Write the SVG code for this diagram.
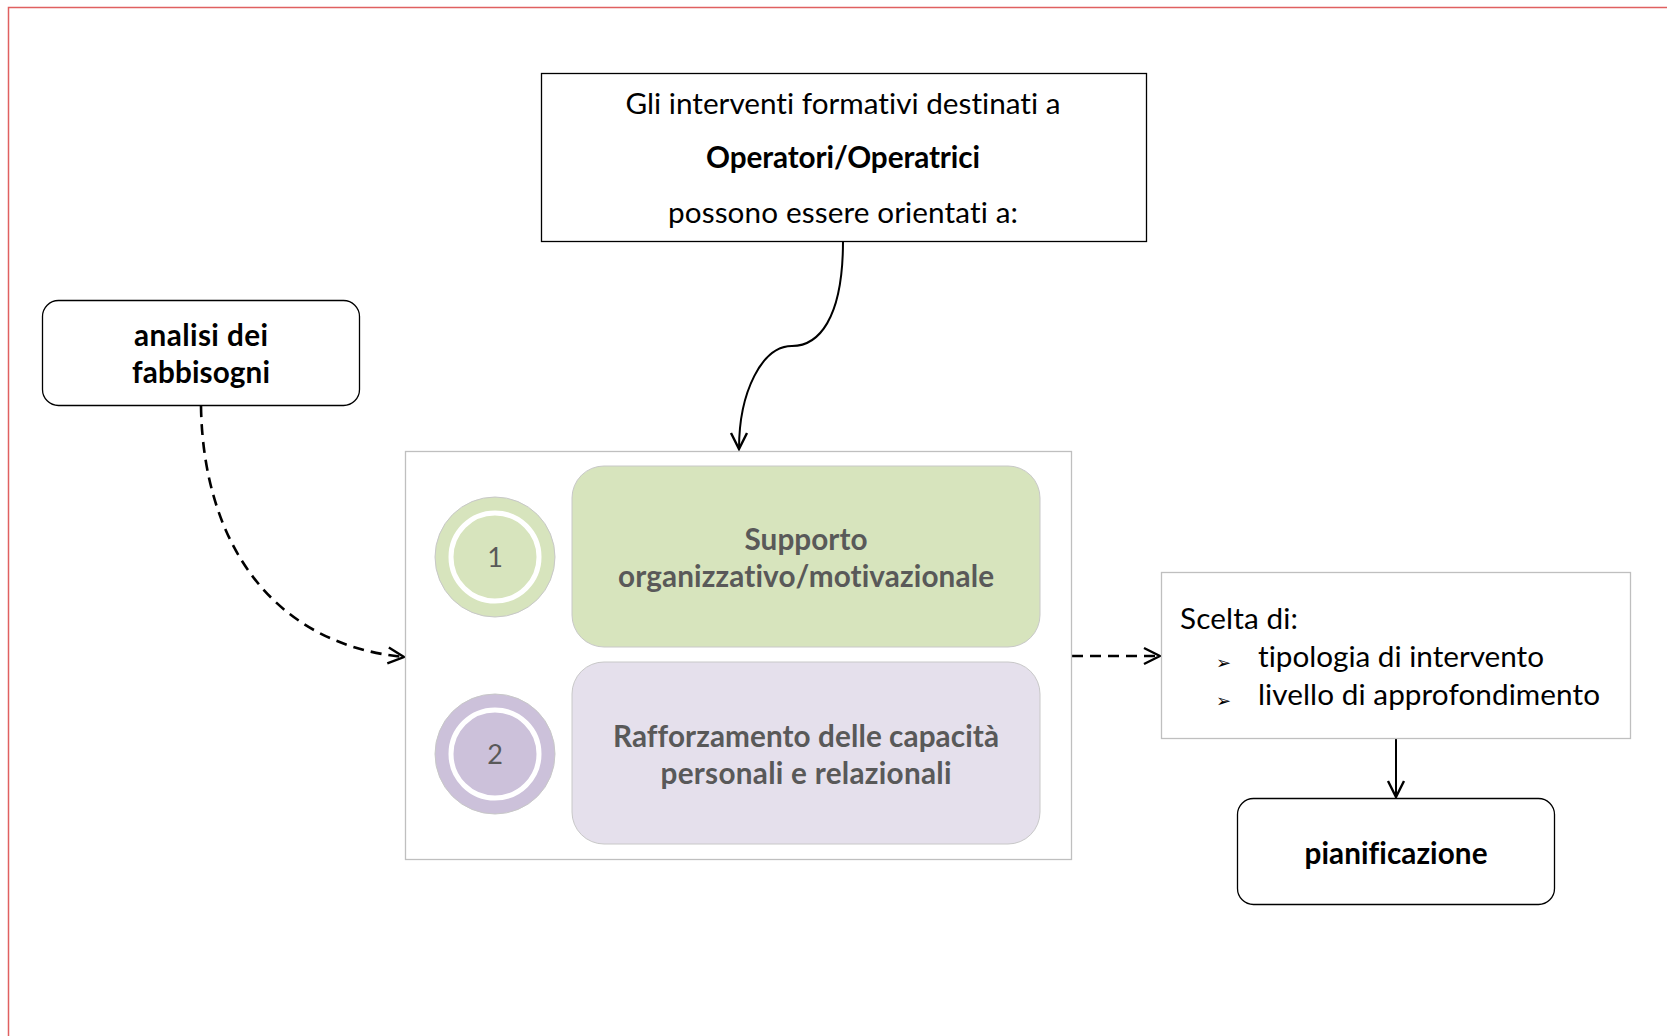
<svg xmlns="http://www.w3.org/2000/svg" width="1667" height="1036" viewBox="0 0 1667 1036">
<style>
  text { font-family: "Lato", "Liberation Sans", sans-serif; font-size: 29.7px; fill: #000; font-variant-ligatures: none; }
  .c { text-anchor: middle; }
  .b { font-weight: bold; }
  .g { fill: #595959; }
  .num { font-size: 27px; font-weight: normal; }
  .bul { font-family: "DejaVu Sans", sans-serif; font-size: 18px; }
  .box { fill: #fff; stroke: #000; stroke-width: 1.3; }
  .lbox { fill: #fff; stroke: #bfbfbf; stroke-width: 1.3; }
  .conn { fill: none; stroke: #000; stroke-width: 2; }
  .dash { stroke-width: 2.6; stroke-dasharray: 11 7; }
</style>
<defs>
  <marker id="arr" viewBox="0 0 20 20" refX="18" refY="10" markerWidth="20" markerHeight="20" markerUnits="userSpaceOnUse" orient="auto">
    <path d="M2 2 L18 10 L2 18" fill="none" stroke="#000" stroke-width="2.4"/>
  </marker>
</defs>
<rect width="1667" height="1036" fill="#fff"/>
<path d="M8.5 1036 V7.5 H1667" fill="none" stroke="#e06060" stroke-width="1.5"/>

<g id="connectors">
  <path class="conn" d="M843 241 C843 320 818 346 792 346 C762 346 739 392 739 449" marker-end="url(#arr)"/>
  <path class="conn dash" d="M201 406 C203 540 270 644 404 657" marker-end="url(#arr)"/>
  <path class="conn dash" d="M1072 656 H1160" marker-end="url(#arr)"/>
  <path class="conn" d="M1396 739 V797" marker-end="url(#arr)"/>
</g>

<g id="top-box">
  <rect class="box" x="541.5" y="73.5" width="605" height="168" stroke-width="2"/>
  <text class="c" x="843" y="114" textLength="435">Gli interventi formativi destinati a</text>
  <text class="c b" x="843" y="168" textLength="274">Operatori/Operatrici</text>
  <text class="c" x="843" y="223" textLength="350">possono essere orientati a:</text>
</g>

<g id="analisi">
  <rect class="box" x="42.5" y="300.5" width="317" height="105" rx="16"/>
  <text class="c b" x="201" y="346" textLength="134">analisi dei</text>
  <text class="c b" x="201" y="383" textLength="138">fabbisogni</text>
</g>

<g id="container">
  <rect class="lbox" x="405.5" y="451.5" width="666" height="408"/>
</g>

<g id="item1">
  <circle cx="495" cy="557" r="60" fill="#d7e4bd" stroke="#c8c8c8" stroke-width="1"/>
  <circle cx="495" cy="557" r="44" fill="#d7e4bd" stroke="#fff" stroke-width="5"/>
  <text class="c g num" x="495" y="567">1</text>
  <rect x="572" y="466" width="468" height="181" rx="32" fill="#d7e4bd" stroke="#c8c8c8" stroke-width="1"/>
  <text class="c b g" x="806" y="550" textLength="123">Supporto</text>
  <text class="c b g" x="806" y="587" textLength="376">organizzativo/motivazionale</text>
</g>

<g id="item2">
  <circle cx="495" cy="754" r="60" fill="#ccc1da" stroke="#c8c8c8" stroke-width="1"/>
  <circle cx="495" cy="754" r="44" fill="#ccc1da" stroke="#fff" stroke-width="5"/>
  <text class="c g num" x="495" y="764">2</text>
  <rect x="572" y="662" width="468" height="182" rx="32" fill="#e5e0ec" stroke="#c8c8c8" stroke-width="1"/>
  <text class="c b g" x="806" y="747" textLength="386">Rafforzamento delle capacità</text>
  <text class="c b g" x="806" y="784" textLength="291">personali e relazionali</text>
</g>

<g id="scelta">
  <rect class="lbox" x="1161.5" y="572.5" width="469" height="166"/>
  <text x="1180" y="629" textLength="118">Scelta di:</text>
  <text class="bul" x="1216" y="669">➢</text>
  <text x="1258" y="667" textLength="286">tipologia di intervento</text>
  <text class="bul" x="1216" y="707">➢</text>
  <text x="1258" y="705" textLength="342">livello di approfondimento</text>
</g>

<g id="pianificazione">
  <rect class="box" x="1237.5" y="798.5" width="317" height="106" rx="16"/>
  <text class="c b" x="1396" y="864" textLength="183">pianificazione</text>
</g>
</svg>
